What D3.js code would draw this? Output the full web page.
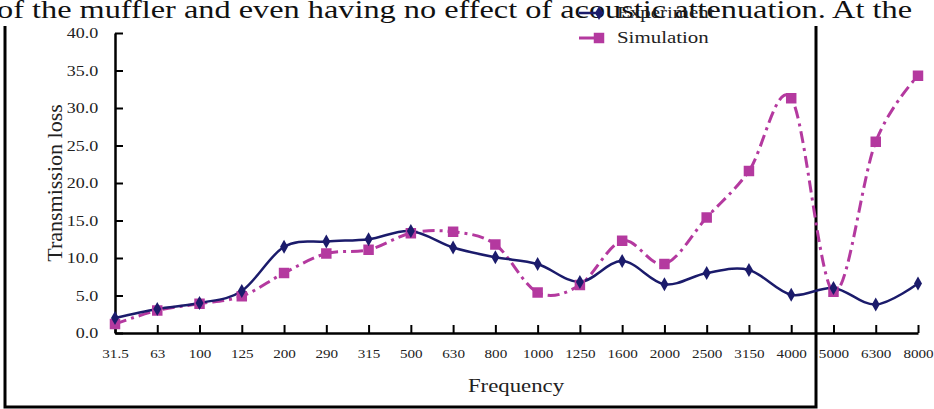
<!DOCTYPE html>
<html>
<head>
<meta charset="utf-8">
<script src="https://cdn.jsdelivr.net/npm/d3@7"></script>
<style>
	body { margin: 0; background: #fff; }
	svg { display: block; font-family: 'Liberation Serif', 'Times New Roman', serif; }
</style>
</head>
<body>
<svg id="chart" width="934" height="409"></svg>
<script>
const frequencies = ['31.5', '63', '100', '125', '200', '290', '315', '500', '630', '800', '1000', '1250', '1600', '2000', '2500', '3150', '4000', '5000', '6300', '8000']
const experiment = [2.0, 3.2, 4.0, 5.6, 11.5, 12.2, 12.5, 13.6, 11.4, 10.1, 9.2, 6.8, 9.6, 6.5, 8.0, 8.4, 5.1, 6.0, 3.8, 6.6]
const simulation = [1.2, 3.0, 3.9, 4.9, 8.0, 10.6, 11.1, 13.3, 13.5, 11.8, 5.4, 6.4, 12.3, 9.2, 15.4, 21.6, 31.3, 5.5, 25.5, 34.3]
const yTicks = [0, 5, 10, 15, 20, 25, 30, 35, 40]
const seriesNames = ['Experiment', 'Simulation']

const navy = '#1b1b6b'
const magenta = '#b4399f'
const stretch = 1.2 // the scanned figure is a bit wider than tall

const svg = d3.select('#chart')

// Running text of the page above the figure
svg.append('text')
	.attr('x', -3)
	.attr('y', 18)
	.attr('font-size', 25)
	.attr('textLength', 915)
	.attr('lengthAdjust', 'spacingAndGlyphs')
	.attr('fill', '#111')
	.text('of the muffler and even having no effect of acoustic attenuation. At the')

// Frame of the figure
svg.append('path')
	.attr('d', 'M5,26V407H816V26')
	.attr('fill', 'none')
	.attr('stroke', '#000')
	.attr('stroke-width', 3)

// Scales
const xScale = d3.scalePoint()
	.domain(frequencies)
	.range([115, 918])

const yScale = d3.scaleLinear()
	.domain([0, 40])
	.range([333, 33])

// Y-Axis
const yAxis = d3.axisLeft(yScale)
	.tickValues(yTicks)
	.tickFormat(d3.format('.1f'))
	.tickSizeInner(-8)
	.tickSizeOuter(0)
	.tickPadding(14)

const gy = svg.append('g')
	.attr('transform', 'translate(115,0)')
	.call(yAxis)
gy.select('.domain').attr('stroke-width', 2.5)
gy.selectAll('.tick line').attr('stroke-width', 2)
gy.selectAll('.tick text')
	.attr('font-size', 15)
	.attr('font-family', 'Liberation Serif, serif')
	.attr('fill', '#222')
	.attr('transform', `scale(${stretch},1)`)

// X-Axis
const xAxis = d3.axisBottom(xScale)
	.tickSizeInner(-8)
	.tickSizeOuter(0)
	.tickPadding(15)

const gx = svg.append('g')
	.attr('transform', 'translate(0,333)')
	.call(xAxis)
gx.select('.domain').attr('stroke-width', 2.5)
gx.selectAll('.tick line').attr('stroke-width', 2)
gx.selectAll('.tick text')
	.attr('font-size', 13.5)
	.attr('font-family', 'Liberation Serif, serif')
	.attr('fill', '#222')
	.attr('transform', 'scale(1.12,1)')

// Axis titles
svg.append('text')
	.attr('transform', 'translate(62,183) rotate(-90)')
	.attr('text-anchor', 'middle')
	.attr('font-size', 22)
	.attr('fill', '#222')
	.text('Transmission loss')

svg.append('text')
	.attr('transform', `translate(516,392) scale(${stretch},1)`)
	.attr('text-anchor', 'middle')
	.attr('font-size', 19)
	.attr('fill', '#222')
	.text('Frequency')

// Lines
const line = d3.line()
	.x((d, i) => xScale(frequencies[i]))
	.y(d => yScale(d))
	.curve(d3.curveCardinal.tension(0))

svg.append('path')
	.datum(simulation)
	.attr('d', line)
	.attr('fill', 'none')
	.attr('stroke', magenta)
	.attr('stroke-width', 3)
	.attr('stroke-dasharray', '12,5,3,5')

svg.append('path')
	.datum(experiment)
	.attr('d', line)
	.attr('fill', 'none')
	.attr('stroke', navy)
	.attr('stroke-width', 2.5)

// Markers
svg.append('g')
	.selectAll('path')
	.data(simulation)
	.enter()
	.append('path')
	.attr('transform', (d, i) => `translate(${xScale(frequencies[i])},${yScale(d)})`)
	.attr('d', d3.symbol(d3.symbolSquare, 110))
	.attr('fill', magenta)

svg.append('g')
	.selectAll('path')
	.data(experiment)
	.enter()
	.append('path')
	.attr('transform', (d, i) => `translate(${xScale(frequencies[i])},${yScale(d)})`)
	.attr('d', d3.symbol(d3.symbolDiamond, 55))
	.attr('fill', navy)

// Legend
const legend = svg.append('g')
	.attr('transform', 'translate(579,0)')

const legendRows = legend.selectAll('g')
	.data(seriesNames)
	.enter()
	.append('g')
	.attr('transform', (d, i) => `translate(0,${i === 0 ? 13 : 38})`)

legendRows.append('line')
	.attr('x1', 0)
	.attr('x2', 24)
	.attr('stroke', (d, i) => i === 0 ? navy : magenta)
	.attr('stroke-width', (d, i) => i === 0 ? 2.5 : 3)

legendRows.append('path')
	.attr('transform', 'translate(20,0)')
	.attr('d', (d, i) => i === 0 ? d3.symbol(d3.symbolDiamond, 55)() : d3.symbol(d3.symbolSquare, 110)())
	.attr('fill', (d, i) => i === 0 ? navy : magenta)

legendRows.append('text')
	.attr('transform', 'translate(38,5) scale(1.23,1)')
	.attr('font-size', 17)
	.attr('fill', '#222')
	.text(d => d)
</script>
</body>
</html>
